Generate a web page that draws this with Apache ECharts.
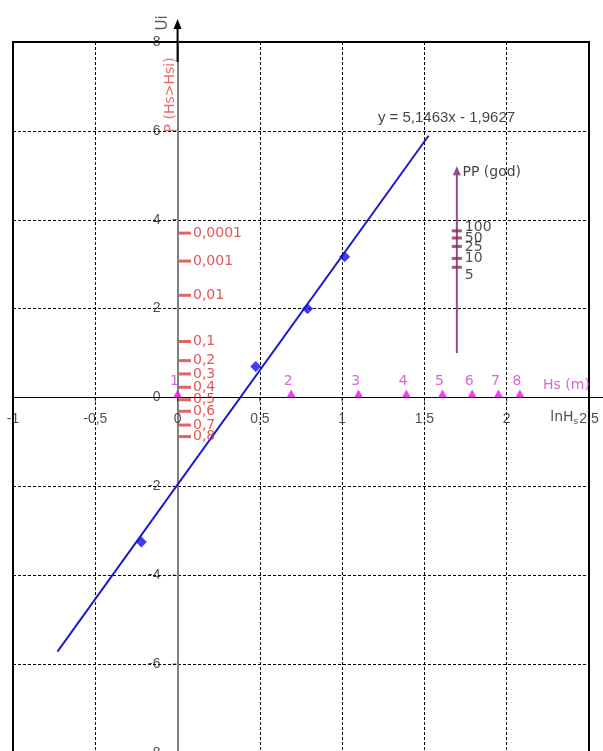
<!DOCTYPE html>
<html>
<head>
<meta charset="utf-8">
<script src="https://cdn.jsdelivr.net/npm/echarts@6/dist/echarts.min.js"></script>
<style>
html, body { margin: 0; padding: 0; background: #fff; }
#chart { width: 603px; height: 751px; }
</style>
</head>
<body>
<div id="chart"></div>
<script>
// measured points (ln Hs, Ui)
var lnHs = [-0.22, 0.475, 0.79, 1.015];
var ui = [-3.25, 0.70, 2.0, 3.17];
// ends of the regression line
var fitX = [-0.73, 1.525];
var fitY = [-5.72, 5.89];
// Hs (m) marks on the x axis
var hsLabels = ['1', '2', '3', '4', '5', '6', '7', '8'];
var hsLn = [0, 0.69, 1.10, 1.39, 1.61, 1.79, 1.95, 2.08];
// probability scale P(Hs>Hsi)
var pLabels = ['0,0001', '0,001', '0,01', '0,1', '0,2', '0,3', '0,4', '0,5', '0,6', '0,7', '0,8'];
var pU = [3.70, 3.07, 2.30, 1.26, 0.83, 0.53, 0.23, -0.05, -0.31, -0.62, -0.88];
// return period scale PP (god)
var ppLabels = ['100', '50', '25', '10', '5'];
var ppU = [3.75, 3.59, 3.40, 3.13, 2.93];
var ppRange = [1.0, 5.1];
// axis tick labels
var xTickVals = [-1, -0.5, 0, 0.5, 1, 1.5, 2, 2.5];
var xTickLabels = ['-1', '-0,5', '0', '0,5', '1', '1,5', '2', '2,5'];
var yTickVals = [8, 6, 4, 2, 0, -2, -4, -6, -8];
var yTickLabels = ['8', '6', '4', '2', '0', '-2', '-4', '-6', '-8'];

// where the side scales sit (x in data units) and small label nudges
var pScaleX = 0.045;
var ppScaleX = 1.697;
var ppLabelShift = [-4, 0, 1, 0, 8];

var myChart = echarts.init(document.getElementById('chart'));

var sans = 'Liberation Sans';
var dv = 'DejaVu Sans';

function zip(a, b) {
  return a.map(function (v, i) { return [v, b[i]]; });
}

// text-only marks placed in data coordinates
function note(x, y, text, style) {
  return {
    value: [x, y],
    label: Object.assign({ show: true, formatter: text, position: 'inside' }, style)
  };
}

var gridLine = { show: true, lineStyle: { color: '#000', width: 1, type: [3, 2] } };

var option = {
  animation: false,
  grid: {
    left: 13, right: 14, top: 42, height: 711,
    show: true, borderColor: '#000', borderWidth: 2,
    outerBoundsMode: 'none'
  },
  xAxis: {
    type: 'value', min: -1, max: 2.5, interval: 0.5,
    axisLine: { onZero: true, lineStyle: { color: '#000', width: 1 } },
    axisTick: { show: false },
    axisLabel: { show: false },
    splitLine: gridLine
  },
  yAxis: {
    type: 'value', min: -8, max: 8, interval: 2,
    axisLine: { onZero: true, lineStyle: { color: '#808080', width: 2 } },
    axisTick: { show: false },
    axisLabel: { show: false },
    splitLine: gridLine
  },
  series: [
    {
      // x tick labels, drawn on the zero line
      type: 'scatter',
      data: xTickVals.map(function (v, i) {
        return { value: [v, 0], name: xTickLabels[i] };
      }),
      symbol: 'rect',
      symbolSize: [1, 4],
      symbolOffset: [0, 2],
      itemStyle: { color: '#000' },
      clip: false,
      silent: true,
      label: {
        show: true, position: 'inside', offset: [0, 20],
        formatter: '{b}', color: '#222', fontSize: 14, fontFamily: sans
      },
      z: 4
    },
    {
      // y tick labels, left of the x = 0 line
      type: 'scatter',
      data: yTickVals.map(function (v, i) {
        return { value: [0, v], name: yTickLabels[i] };
      }),
      symbol: 'rect',
      symbolSize: [4, 1],
      symbolOffset: [-3, 0],
      itemStyle: { color: '#000' },
      clip: false,
      silent: true,
      label: {
        show: true, position: 'left', distance: 12,
        formatter: '{b}', color: '#222', fontSize: 14, fontFamily: sans
      },
      z: 4
    },
    {
      // regression line
      type: 'line',
      data: zip(fitX, fitY),
      symbol: 'none',
      lineStyle: { color: '#1a1acc', width: 2 },
      z: 5
    },
    {
      type: 'scatter',
      data: zip(lnHs, ui),
      symbol: 'diamond',
      symbolSize: 11,
      itemStyle: { color: '#1010e0' },
      z: 6
    },
    {
      // Hs marks
      type: 'scatter',
      data: hsLn.map(function (v, i) {
        return { value: [v, 0], name: hsLabels[i] };
      }),
      symbol: 'triangle',
      symbolSize: [9, 8],
      symbolOffset: [0, -4],
      itemStyle: { color: '#f010f0' },
      label: {
        show: true, position: 'top', distance: 1, offset: [-3, 0],
        formatter: '{b}', color: '#d040d0', fontSize: 14, fontFamily: dv
      },
      z: 7
    },
    {
      // probability scale
      type: 'scatter',
      data: pU.map(function (v, i) {
        return { value: [pScaleX, v], name: pLabels[i] };
      }),
      symbol: 'rect',
      symbolSize: [12, 3],
      itemStyle: { color: '#d84040' },
      label: {
        show: true, position: 'right', distance: 2,
        formatter: '{b}', color: '#e02a2a', fontSize: 14, fontFamily: dv
      },
      z: 7
    },
    {
      // PP arrow
      type: 'line',
      data: [
        { value: [ppScaleX, ppRange[0]], symbol: 'none' },
        { value: [ppScaleX, ppRange[1]], symbol: 'triangle', symbolSize: [8, 9] }
      ],
      showSymbol: true,
      lineStyle: { color: '#9a4a80', width: 2 },
      itemStyle: { color: '#9a4a80' },
      z: 5
    },
    {
      // PP ticks
      type: 'scatter',
      data: ppU.map(function (v, i) {
        return {
          value: [ppScaleX, v], name: ppLabels[i],
          label: { offset: [0, ppLabelShift[i]] }
        };
      }),
      symbol: 'rect',
      symbolSize: [10, 3],
      itemStyle: { color: '#8a2a60' },
      label: {
        show: true, position: 'right', distance: 3,
        formatter: '{b}', color: '#222', fontSize: 14, fontFamily: dv
      },
      z: 7
    },
    {
      // texts
      type: 'scatter',
      symbolSize: 0,
      clip: false,
      silent: true,
      data: [
        note(1.634, 6.29, 'y = 5,1463x - 1,9627', { color: '#111', fontSize: 15, fontFamily: sans }),
        note(1.731, 5.06, 'PP (god)', { color: '#111', fontSize: 14, fontFamily: dv, position: 'right', distance: 0 }),
        note(2.363, 0.27, 'Hs (m)', { color: '#d040d0', fontSize: 14, fontFamily: dv }),
        note(2.35, -0.45, '{a|lnH}{b|s}', {
          rich: {
            a: { color: '#222', fontSize: 14, fontFamily: dv },
            b: { color: '#222', fontSize: 9, fontFamily: dv, padding: [8, 0, 0, 0] }
          }
        }),
        note(-0.085, 8.43, 'Ui', { color: '#333', fontSize: 15, fontFamily: dv, rotate: 90 }),
        note(-0.043, 6.81, 'P (Hs>Hsi)', { color: '#e04848', fontSize: 14, fontFamily: dv, rotate: 90 })
      ],
      z: 8
    }
  ]
};

myChart.setOption(option);

// arrows extending the axes beyond the frame
var top0 = myChart.convertToPixel({ gridIndex: 0 }, [0, 8]);
var right0 = myChart.convertToPixel({ gridIndex: 0 }, [2.5, 0]);
myChart.setOption({
  graphic: [
    {
      type: 'line', z: 20,
      shape: { x1: top0[0], y1: top0[1] + 20, x2: top0[0], y2: 27 },
      style: { stroke: '#000', lineWidth: 2 }
    },
    {
      type: 'polygon', z: 20,
      shape: { points: [[top0[0] - 4, 29], [top0[0] + 4, 29], [top0[0], 19]] },
      style: { fill: '#000' }
    },
    {
      type: 'line', z: 20,
      shape: { x1: right0[0], y1: right0[1], x2: 603, y2: right0[1] },
      style: { stroke: '#000', lineWidth: 1 }
    }
  ]
});
</script>
</body>
</html>
